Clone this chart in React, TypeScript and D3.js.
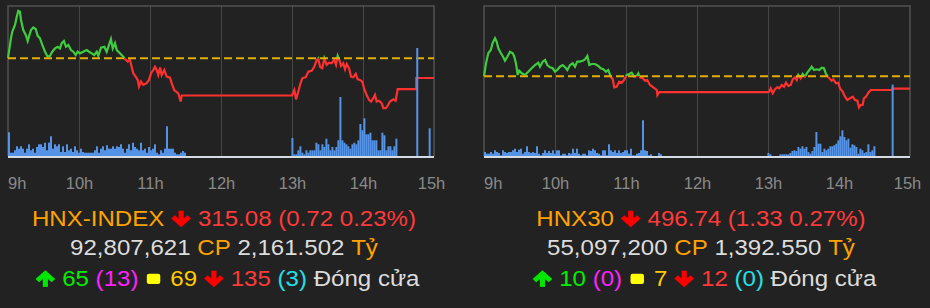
import React, { useEffect, useRef } from 'react';
import * as d3 from 'd3';

const W = 930;
const H = 308;

// ---------- data ----------
const HOUR_LABELS = ['9h', '10h', '11h', '12h', '13h', '14h', '15h'];
const HOUR_TICKS = [0, 60, 120, 180, 240, 300, 360]; // minutes after 09:00

const hnxRef = 315.8;
const hnxTimes = [0, 2.5, 3.6, 5.9, 7.4, 8.7, 10.1, 11, 12.9, 15, 16.6, 17.7, 19.4, 21.4, 23.4, 25.1, 27, 29, 31.3, 33.5, 35.5, 37.4, 39.7, 42, 43.9, 45.4, 47.3, 49, 51, 53.2, 55.2, 57.2, 58.9, 60.8, 63.6, 66.5, 68.5, 70.7, 72.9, 75, 76.3, 78.6, 81.4, 83.4, 84.8, 87, 88.5, 90.4, 91.9, 94.6, 97.4, 98.9, 101.2, 103.1, 104.5, 105.9, 107.9, 109.6, 110.7, 112.4, 114.3, 117.2, 119.2, 120.8, 122.8, 124.2, 125.7, 127, 128.5, 129.9, 132.1, 134.1, 136.9, 138.3, 140.5, 142.6, 143.9, 145.9, 146.8, 240, 242, 243.4, 245.3, 246.8, 248.7, 251.6, 253.8, 256.6, 258.8, 260.9, 262.2, 263.7, 265.6, 267.3, 269.3, 271.3, 273.5, 275.7, 277.2, 278.6, 280, 281.4, 283.3, 284.8, 286.2, 288.2, 289.9, 291.8, 293.8, 295.5, 297.5, 299.4, 301.1, 303.1, 305.1, 306.8, 308.7, 310.1, 311.5, 313.5, 315.8, 317.2, 319.2, 320.9, 322.8, 325.6, 327.6, 329.3, 345, 345, 360];
const hnxValues = [315.8, 316.53, 316.77, 317.02, 317.32, 317.53, 317.5, 317.2, 316.83, 316.65, 316.43, 316.59, 316.83, 316.93, 316.87, 316.62, 316.53, 316.29, 316.04, 315.86, 315.89, 316.04, 316.16, 316.22, 316.16, 316.35, 316.43, 316.22, 316.29, 316.1, 316.04, 315.92, 316.04, 315.98, 316.04, 316.1, 316.04, 315.98, 315.92, 316.04, 315.89, 316.19, 316.22, 316.04, 316.22, 316.5, 316.16, 316.35, 316.1, 315.98, 315.86, 315.77, 315.68, 315.74, 315.49, 315.25, 315.13, 315.01, 314.77, 314.95, 314.83, 314.89, 315.01, 315.25, 315.37, 315.49, 315.37, 315.19, 315.46, 315.19, 315.37, 315.13, 315.09, 314.89, 314.64, 314.56, 314.52, 314.22, 314.44, 314.44, 314.64, 314.3, 314.58, 314.83, 315.07, 315.11, 315.31, 315.34, 315.49, 315.74, 315.8, 315.49, 315.44, 315.8, 315.56, 315.64, 315.62, 315.74, 315.56, 315.89, 315.74, 315.52, 315.62, 315.4, 315.59, 315.44, 315.13, 315.11, 315.23, 315.03, 315.01, 314.95, 314.67, 314.46, 314.28, 314.22, 314.34, 314.46, 314.22, 314.25, 314.16, 313.98, 313.98, 314.07, 314.22, 314.3, 314.25, 314.67, 314.67, 315.08, 315.08];
const hnxVolMorning = [237, 33, 33, 57, 97, 73, 97, 73, 33, 73, 117, 57, 73, 33, 90, 117, 117, 90, 133, 57, 133, 197, 73, 117, 97, 117, 40, 97, 40, 117, 57, 73, 40, 97, 57, 33, 73, 40, 33, 33, 33, 33, 33, 57, 97, 33, 73, 97, 57, 107, 73, 73, 97, 73, 97, 90, 117, 73, 33, 73, 117, 57, 133, 90, 73, 57, 133, 57, 73, 33, 90, 57, 73, 117, 33, 17, 57, 33, 73, 297, 73, 73, 73, 33, 17, 17, 33, 50, 33];
const hnxVolAfternoon = [180, 17, 17, 57, 97, 33, 17, 57, 33, 57, 57, 57, 133, 117, 57, 117, 90, 173, 117, 57, 90, 57, 90, 157, 590, 157, 133, 117, 97, 73, 117, 133, 117, 157, 320, 257, 377, 217, 217, 233, 157, 157, 157, 57, 57, 233, 207, 57, 97, 97, 57, 97, 173];
const hnxVolLateTimes = [345, 355.5];
const hnxVolLate = [1080, 277];

const hnx30Ref = 498.07;
const hnx30Times = [0, 1.7, 3.6, 5.7, 7.4, 9.3, 10.7, 12.1, 14.1, 16.3, 17.7, 19.7, 22, 24.3, 25.6, 27, 28.5, 29.8, 31.9, 34.6, 37.4, 40.3, 43.1, 45.9, 47.3, 49.6, 51.6, 53.5, 55.8, 58.1, 60, 61.9, 64.2, 66.5, 68.5, 70.4, 72.7, 75, 76.9, 78.8, 81.1, 83.4, 85.4, 87.3, 89, 91, 93.8, 96.6, 98.6, 100.8, 103.1, 105, 107.1, 108.8, 110.1, 112.1, 114.3, 116.4, 118.3, 120.6, 122.8, 124.8, 126.8, 129, 130.4, 131.8, 134.1, 136.1, 138, 140.3, 143.1, 146, 146.5, 148.1, 240, 241.1, 242.3, 244, 245.9, 247.9, 249.6, 251.6, 253.5, 255.2, 257.2, 259.2, 260.9, 262.8, 264.3, 265.6, 267.6, 269.3, 271.3, 273.2, 275.5, 276.9, 278.9, 281.2, 283.4, 285.4, 287.3, 289, 290.5, 291.8, 293.8, 295.2, 297.5, 299.4, 300.8, 303.1, 305.1, 307, 309.3, 311.6, 313.5, 315.5, 316.9, 318.3, 320, 321.1, 322.8, 324.8, 326.8, 330, 345, 345, 360];
const hnx30Values = [498.07, 499.46, 500.54, 500.89, 501.68, 502.15, 501.78, 501.07, 500.6, 500.11, 499.74, 500.17, 500.71, 500.54, 500.17, 499.46, 498.21, 498.67, 498.39, 498.21, 498.56, 498.93, 499.28, 499.53, 499.1, 499.64, 499.82, 499.28, 499.04, 498.93, 498.56, 498.75, 499.1, 499.28, 499.04, 498.75, 499.28, 499.46, 499.1, 499.64, 499.64, 499.74, 499.89, 500.25, 499.28, 499.39, 499.39, 499.18, 498.93, 498.82, 498.56, 498.75, 498.03, 497.75, 496.89, 496.95, 497.49, 497.38, 497.67, 498.21, 498.32, 498.46, 498.03, 498.1, 498.39, 497.96, 497.86, 497.6, 497.67, 497.14, 496.89, 496.6, 496.06, 496.38, 496.38, 496.42, 496.78, 496.25, 496.68, 496.89, 496.78, 497.14, 496.95, 497.38, 497.03, 497.14, 497.75, 497.96, 497.67, 498.21, 497.86, 498.32, 498.03, 498.46, 498.82, 499.1, 498.75, 498.82, 498.75, 498.99, 498.93, 498.32, 498.03, 497.86, 497.6, 497.75, 497.32, 497.38, 496.78, 496.42, 495.88, 495.53, 495.71, 495.88, 495.53, 495.45, 494.74, 494.99, 494.99, 495.71, 495.88, 496.31, 496.6, 496.6, 496.6, 496.74, 496.74];
const hnx30VolMorning = [40, 23, 23, 40, 23, 57, 40, 30, 7, 57, 40, 30, 40, 40, 57, 73, 40, 63, 73, 23, 40, 97, 40, 30, 40, 30, 97, 23, 7, 30, 57, 30, 50, 30, 57, 23, 57, 57, 7, 23, 23, 7, 30, 23, 73, 30, 73, 23, 7, 23, 23, 7, 57, 50, 73, 57, 30, 23, 7, 57, 57, 7, 117, 57, 40, 57, 30, 57, 30, 40, 57, 57, 23, 73, 7, 7, 23, 30, 57, 357, 57, 50, 7, 17, 0, 0, 0, 30, 17];
const hnx30VolAfternoon = [30, 17, 0, 0, 0, 0, 17, 17, 17, 17, 17, 30, 50, 57, 50, 90, 73, 97, 73, 90, 40, 23, 50, 90, 240, 123, 123, 40, 73, 57, 73, 97, 97, 107, 123, 157, 197, 257, 190, 157, 173, 83, 117, 107, 90, 23, 73, 57, 30, 40, 117, 40, 57, 97];
const hnx30VolLateTimes = [344.5];
const hnx30VolLate = [714];

const STATUS = 'Đóng cửa';
const hnxInfo = { name: 'HNX-INDEX', close: '315.08', change: '0.72', pct: '0.23%', volume: '92,807,621', value: '2,161.502', up: '65', ceil: '13', flat: '69', down: '135', floor: '3' };
const hnx30Info = { name: 'HNX30', close: '496.74', change: '1.33', pct: '0.27%', volume: '55,097,200', value: '1,392.550', up: '10', ceil: '0', flat: '7', down: '12', floor: '0' };

// ---------- style ----------
const BG = '#222222';
const GREEN = '#3fcc3f';
const RED = '#ff3030';
const REF_COLOR = '#e2ae00';
const BAR = '#5593e6';
const TOP = 6;
const BOTTOM = 156;
const BIN = 1.69;
const MORNING_START = 0;
const AFTERNOON_START = 239.5;
const FONT = "'Liberation Sans', Arial, Helvetica, sans-serif";

const PANELS = [
  { left: 8, right: 434, yDomain: [312.23, 317.71], ref: hnxRef, times: hnxTimes, values: hnxValues, volM: hnxVolMorning, volA: hnxVolAfternoon, lateT: hnxVolLateTimes, lateV: hnxVolLate, info: hnxInfo, cx: 224 },
  { left: 484, right: 910, yDomain: [489.52, 505.61], ref: hnx30Ref, times: hnx30Times, values: hnx30Values, volM: hnx30VolMorning, volA: hnx30VolAfternoon, lateT: hnx30VolLateTimes, lateV: hnx30VolLate, info: hnx30Info, cx: 701 },
];

type Seg = { t?: string; c?: string; icon?: 'up' | 'down' | 'square'; gap?: boolean };

function drawTextLine(svg: any, cx: number, baseline: number, segs: Seg[]) {
  const fs = 21.5;
  const outer = svg.append('g').attr('transform', `translate(${cx},${baseline}) scale(1.12,1)`);
  const inner = outer.append('g');
  let cur = 0;
  const space = fs * 0.278;
  segs.forEach((s) => {
    if (s.gap) { cur += space; return; }
    if (s.t !== undefined) {
      const el = inner.append('text').attr('x', cur).attr('y', 0)
        .attr('font-family', FONT).attr('font-size', fs).attr('fill', s.c).text(s.t);
      cur += (el.node() as SVGTextElement).getComputedTextLength();
      return;
    }
    if (s.icon === 'square') {
      const padL = 7.5, w = 12, padR = 9;
      inner.append('rect').attr('x', cur + padL).attr('y', -12).attr('width', w).attr('height', 10.2)
        .attr('rx', 2).attr('fill', '#ffff00');
      cur += padL + w + padR;
      return;
    }
    const padL = 6, w = 18, padR = 6;
    const ax = cur + padL + w / 2;
    const col = s.icon === 'up' ? '#00e600' : '#ff0000';
    const gA = inner.append('g').attr('transform', s.icon === 'up' ? `translate(${ax},-13.8) scale(1,-1)` : `translate(${ax},0)`);
    gA.append('line').attr('x1', 0).attr('x2', 0).attr('y1', -15).attr('y2', -3)
      .attr('stroke', col).attr('stroke-width', 4.6);
    gA.append('path').attr('d', 'M-7.2,-8.8 L0,-1.6 L7.2,-8.8').attr('fill', 'none')
      .attr('stroke', col).attr('stroke-width', 4.6).attr('stroke-linejoin', 'miter').attr('stroke-linecap', 'butt');
    cur += padL + w + padR;
  });
  inner.attr('transform', `translate(${-cur / 2},0)`);
}

function drawPanel(svg: any, p: any, idx: number) {
  const x = d3.scaleLinear().domain([0, 360]).range([p.left, p.right]);
  const y = d3.scaleLinear().domain(p.yDomain).range([BOTTOM, TOP]);
  const v = d3.scaleLinear().domain([0, 1500]).range([BOTTOM, TOP]);
  const g = svg.append('g');

  // grid
  g.selectAll('line.grid').data(HOUR_TICKS.slice(1, -1)).join('line')
    .attr('x1', (d: number) => x(d) + 0.5).attr('x2', (d: number) => x(d) + 0.5)
    .attr('y1', TOP).attr('y2', BOTTOM).attr('stroke', '#474747').attr('stroke-width', 1);
  g.append('path').attr('d', `M${x(0)},${BOTTOM} V${TOP} H${x(360)} V${BOTTOM}`)
    .attr('fill', 'none').attr('stroke', '#525252').attr('stroke-width', 1.5);

  // price line split at reference
  const yr = y(p.ref);
  const defs = g.append('defs');
  defs.append('clipPath').attr('id', `above${idx}`).append('rect')
    .attr('x', 0).attr('y', 0).attr('width', W).attr('height', yr);
  defs.append('clipPath').attr('id', `below${idx}`).append('rect')
    .attr('x', 0).attr('y', yr).attr('width', W).attr('height', H - yr);
  const pts = p.times.map((t: number, i: number) => [t, p.values[i]]);
  const line = d3.line<any>().x((d) => x(d[0])).y((d) => y(d[1]));
  g.append('path').attr('d', line(pts)).attr('fill', 'none').attr('stroke', GREEN)
    .attr('stroke-width', 2.2).attr('clip-path', `url(#above${idx})`);
  g.append('path').attr('d', line(pts)).attr('fill', 'none').attr('stroke', RED)
    .attr('stroke-width', 2.2).attr('clip-path', `url(#below${idx})`);

  // reference line
  g.append('line').attr('x1', x(0)).attr('x2', x(360)).attr('y1', yr).attr('y2', yr)
    .attr('stroke', REF_COLOR).attr('stroke-width', 2).attr('stroke-dasharray', '8,4');

  // volume
  const bw = x(BIN) - x(0);
  const bars: [number, number][] = [];
  p.volM.forEach((val: number, i: number) => bars.push([MORNING_START + i * BIN, val]));
  p.volA.forEach((val: number, i: number) => bars.push([AFTERNOON_START + i * BIN, val]));
  p.lateT.forEach((t: number, i: number) => bars.push([t, p.lateV[i]]));
  g.selectAll('rect.vol').data(bars.filter((b) => b[1] > 0)).join('rect')
    .attr('x', (d: any) => x(d[0])).attr('width', bw)
    .attr('y', (d: any) => v(d[1])).attr('height', (d: any) => BOTTOM - v(d[1]))
    .attr('fill', BAR);

  // axis baseline
  g.append('line').attr('x1', x(0)).attr('x2', x(360)).attr('y1', BOTTOM + 1).attr('y2', BOTTOM + 1)
    .attr('stroke', '#d6dae2').attr('stroke-width', 2);

  // hour labels
  g.selectAll('text.hour').data(HOUR_TICKS).join('text')
    .attr('x', (d: number, i: number) => (i === 0 ? x(d) : i === HOUR_TICKS.length - 1 ? x(d) - 2.5 : x(d) + 0.5))
    .attr('y', 188.5)
    .attr('text-anchor', (d: number, i: number) => (i === 0 ? 'start' : 'middle'))
    .attr('font-family', FONT).attr('font-size', 16.5).attr('fill', '#8a8a8a')
    .text((d: number, i: number) => HOUR_LABELS[i]);

  // summary text
  const info = p.info;
  const ORANGE = '#ffa200';
  const NUMRED = '#ff3a3a';
  const LIGHT = '#dddddd';
  drawTextLine(svg, p.cx, 225.7, [
    { t: info.name, c: ORANGE }, { icon: 'down' }, { t: `${info.close} (${info.change} ${info.pct})`, c: NUMRED },
  ]);
  drawTextLine(svg, p.cx, 255.3, [
    { t: info.volume, c: LIGHT }, { gap: true }, { t: 'CP', c: ORANGE }, { gap: true },
    { t: info.value, c: LIGHT }, { gap: true }, { t: 'Tỷ', c: ORANGE },
  ]);
  drawTextLine(svg, p.cx, 285.7, [
    { icon: 'up' }, { t: info.up, c: '#00f000' }, { gap: true }, { t: `(${info.ceil})`, c: '#ff22ff' },
    { icon: 'square' }, { t: info.flat, c: '#ffcc00' }, { icon: 'down' }, { t: info.down, c: NUMRED },
    { gap: true }, { t: `(${info.floor})`, c: '#22e0e8' }, { gap: true }, { t: STATUS, c: LIGHT },
  ]);
}

export default function App() {
  const ref = useRef<SVGSVGElement>(null);
  useEffect(() => {
    const svg = d3.select(ref.current);
    svg.selectAll('*').remove();
    svg.append('rect').attr('width', W).attr('height', H).attr('fill', BG);
    PANELS.forEach((p, i) => drawPanel(svg, p, i));
  }, []);
  return (
    <svg ref={ref} width={W} height={H}
      style={{ position: 'absolute', left: 0, top: 0, display: 'block' }} />
  );
}
